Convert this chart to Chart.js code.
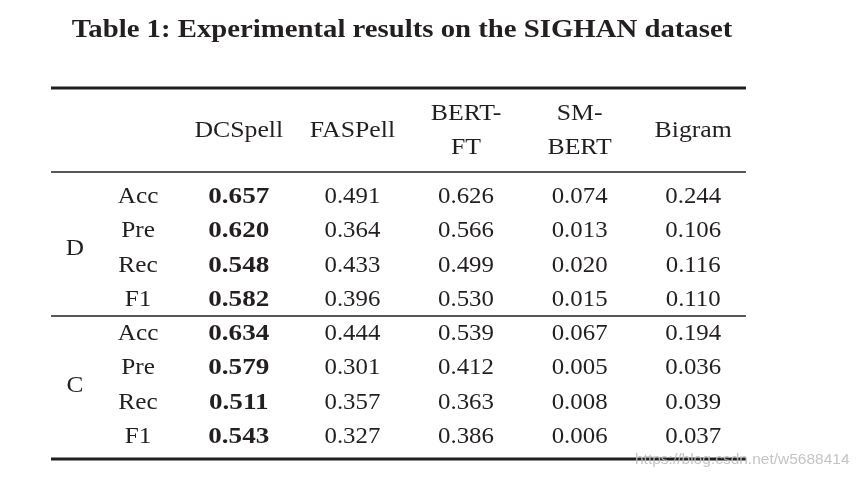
<!DOCTYPE html>
<html>
<head>
<meta charset="utf-8">
<title>Table 1</title>
<script src="https://cdn.jsdelivr.net/npm/chart.js"></script>
<style>
  body { margin: 0; background: #fff; }
  #wrap { width: 864px; height: 477px; position: relative; }
</style>
</head>
<body>
<div id="wrap"><canvas id="tableChart"></canvas></div>
<script>
const title = 'Table 1: Experimental results on the SIGHAN dataset';
const models = ['DCSpell', 'FASPell', 'BERT-FT', 'SM-BERT', 'Bigram'];
const headerLines = [['DCSpell'], ['FASPell'], ['BERT-', 'FT'], ['SM-', 'BERT'], ['Bigram']];
const groups = ['D', 'C'];
const metrics = ['Acc', 'Pre', 'Rec', 'F1'];

// rows: D Acc/Pre/Rec/F1, then C Acc/Pre/Rec/F1
const dcspell = [0.657, 0.620, 0.548, 0.582, 0.634, 0.579, 0.511, 0.543];
const faspell = [0.491, 0.364, 0.433, 0.396, 0.444, 0.301, 0.357, 0.327];
const bertft  = [0.626, 0.566, 0.499, 0.530, 0.539, 0.412, 0.363, 0.386];
const smbert  = [0.074, 0.013, 0.020, 0.015, 0.067, 0.005, 0.008, 0.006];
const bigram  = [0.244, 0.106, 0.116, 0.110, 0.194, 0.036, 0.039, 0.037];
const seriesValues = [dcspell, faspell, bertft, smbert, bigram];

const watermark = 'https://blog.csdn.net/w5688414';

const rowLabels = groups.flatMap(g => metrics.map(m => g + ' ' + m));
const ink = '#231f20';
const serif = '"Liberation Serif", "Times New Roman", serif';

// best value of each row gets bold
const rowMax = rowLabels.map((r, i) => Math.max(...seriesValues.map(s => s[i])));

const datasets = models.map((m, mi) => ({
    label: m,
    data: rowLabels.map((r, i) => ({ x: m, y: r, v: seriesValues[mi][i] })),
    pointRadius: 0
}));

function hRule(ctx, x1, x2, y, w) {
    ctx.beginPath();
    ctx.lineWidth = w;
    ctx.strokeStyle = ink;
    ctx.moveTo(x1, y);
    ctx.lineTo(x2, y);
    ctx.stroke();
}

// the original serif is wider than Liberation Serif, so stretch a bit
function wideText(ctx, text, x, y, sx) {
    ctx.save();
    ctx.translate(x, y);
    ctx.scale(sx, 1);
    ctx.fillText(text, 0, 0);
    ctx.restore();
}

// draws the table text and rules from the scales
const tablePlugin = {
    id: 'tablePlugin',
    afterDatasetsDraw(chart) {
        const ctx = chart.ctx;
        const area = chart.chartArea;
        const xs = chart.scales.x;
        const ys = chart.scales.y;
        ctx.save();
        ctx.fillStyle = ink;
        ctx.textAlign = 'center';
        ctx.textBaseline = 'middle';

        // title
        ctx.font = 'bold 25px ' + serif;
        wideText(ctx, title, 402, 31, 1.15);

        // rules
        const left = area.left - 131, right = area.right - 4;
        hRule(ctx, left, right, area.top - 91, 3);
        hRule(ctx, left, right, area.top - 7, 1.3);
        const sep = (ys.getPixelForValue(3) + ys.getPixelForValue(4)) / 2;
        hRule(ctx, left, right, sep, 1.3);
        hRule(ctx, left, right, area.bottom + 6, 3);

        // header
        ctx.font = '23px ' + serif;
        headerLines.forEach((lines, i) => {
            const x = xs.getPixelForValue(i);
            const cy = area.top - 48;
            lines.forEach((t, li) => {
                wideText(ctx, t, x, cy + (li - (lines.length - 1) / 2) * 34, 1.12);
            });
        });

        // group and metric labels
        groups.forEach((g, gi) => {
            const ya = ys.getPixelForValue(gi * metrics.length + 1);
            const yb = ys.getPixelForValue(gi * metrics.length + 2);
            wideText(ctx, g, area.left - 107, (ya + yb) / 2 + 1, 1.1);
            metrics.forEach((m, mi) => {
                wideText(ctx, m, area.left - 44, ys.getPixelForValue(gi * metrics.length + mi) + 1, 1.1);
            });
        });

        // cells
        chart.data.datasets.forEach((ds, di) => {
            const meta = chart.getDatasetMeta(di);
            meta.data.forEach((pt, i) => {
                const v = ds.data[i].v;
                const best = v === rowMax[i];
                ctx.font = (best ? 'bold ' : '') + '23px ' + serif;
                wideText(ctx, v.toFixed(3), pt.x, pt.y + 1, best ? 1.18 : 1.08);
            });
        });

        // watermark
        ctx.font = '15.5px "Liberation Sans", Arial, sans-serif';
        ctx.fillStyle = 'rgba(190,190,190,0.9)';
        ctx.textAlign = 'left';
        ctx.fillText(watermark, 635, 460);
        ctx.restore();
    }
};

new Chart(document.getElementById('tableChart'), {
    type: 'scatter',
    data: { datasets: datasets },
    options: {
        responsive: true,
        maintainAspectRatio: false,
        animation: false,
        events: [],
        layout: { padding: { left: 182, right: 114, top: 179, bottom: 24 } },
        plugins: { legend: { display: false }, tooltip: { enabled: false } },
        scales: {
            x: { type: 'category', labels: models, offset: true, display: false },
            y: { type: 'category', labels: rowLabels, offset: true, display: false }
        }
    },
    plugins: [tablePlugin]
});
</script>
</body>
</html>
